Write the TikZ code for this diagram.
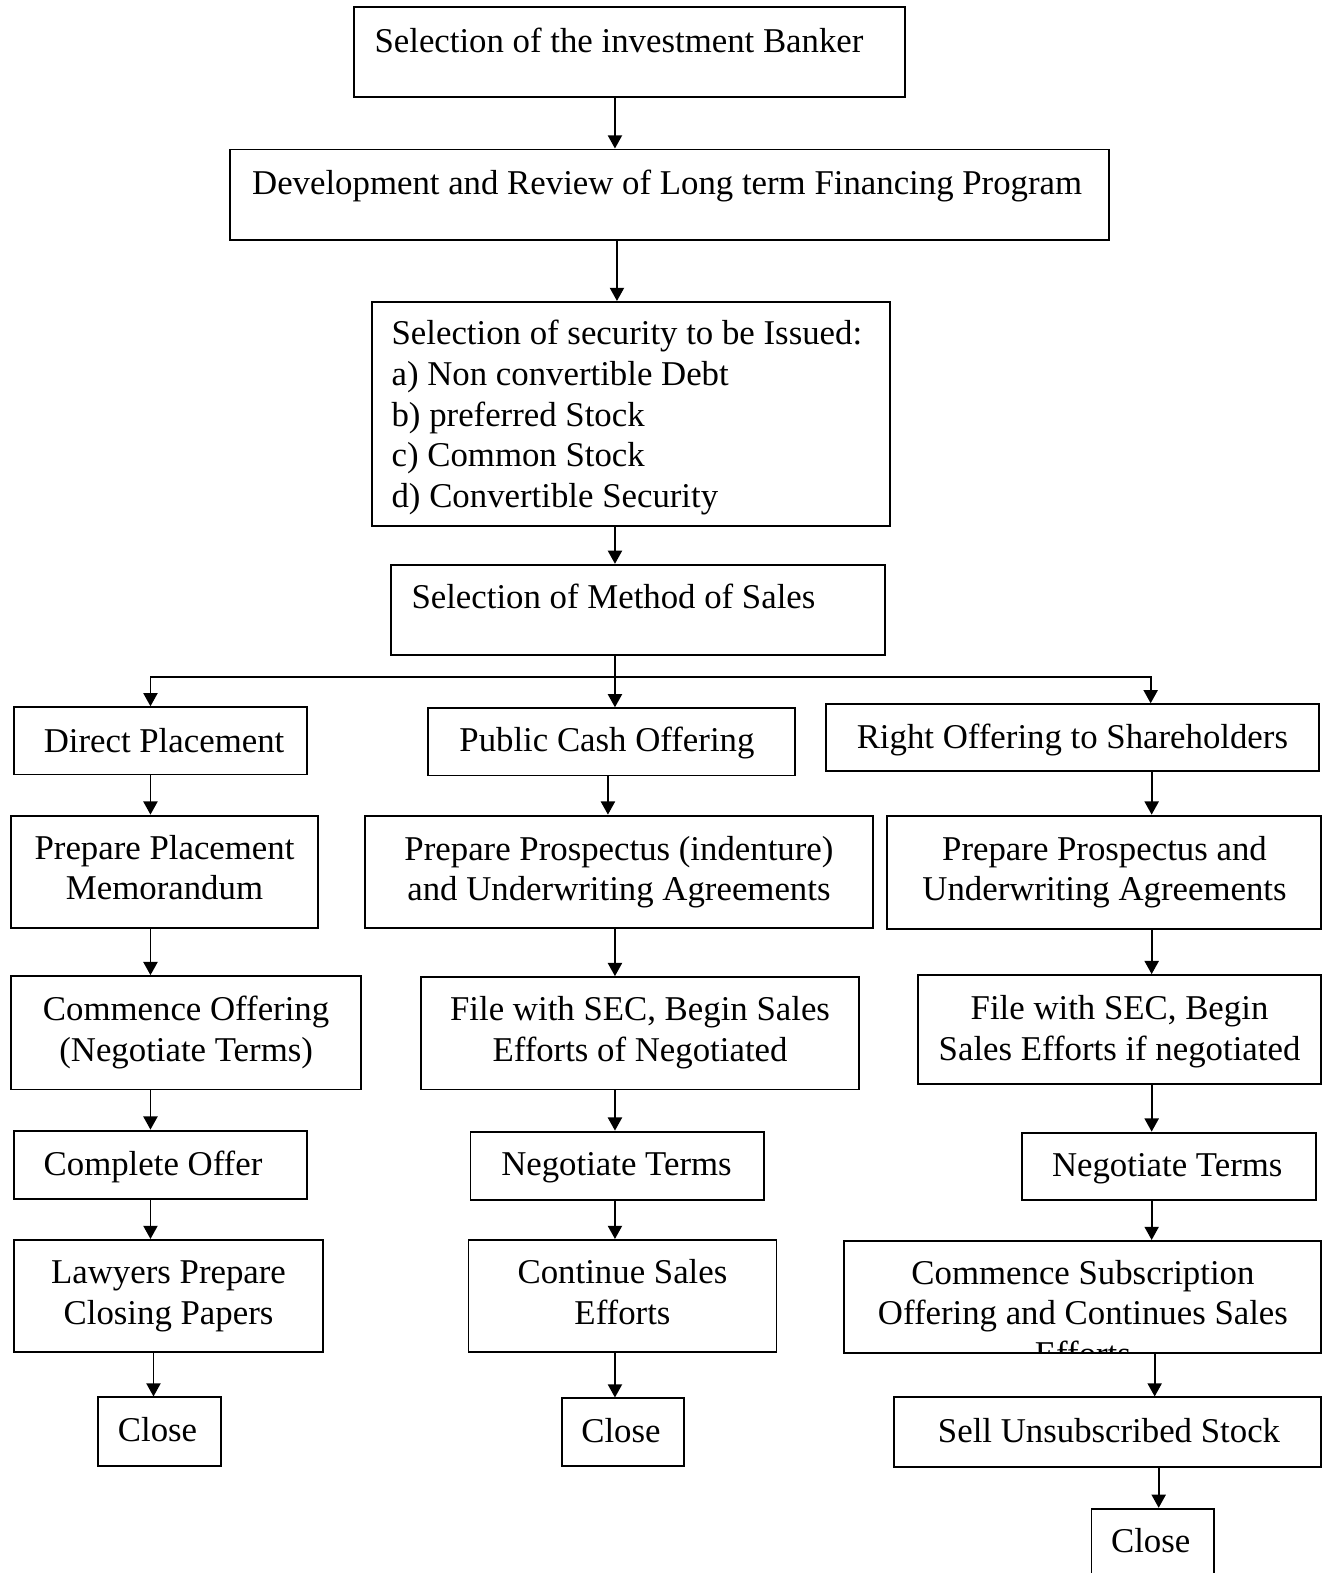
\documentclass[tikz,border=0pt]{standalone}
\usepackage{fontspec}
\setmainfont{Liberation Serif}
\usetikzlibrary{fit,arrows.meta}
\begin{document}
\begin{tikzpicture}[x=0.020064cm,y=-0.020064cm,
  box/.style={draw,line width=1.1pt,inner sep=0pt,fit={#1}},
  txt/.style={font=\fontsize{19.8}{23}\selectfont,inner sep=0pt,align=center,anchor=base},
  txtl/.style={font=\fontsize{19.8}{23.2}\selectfont,inner sep=0pt,align=left,anchor=base west},
  arr/.style={line width=1.1pt,-{Triangle[width=8pt,length=7.5pt]}},
  ln/.style={line width=1.1pt}]
\useasboundingbox (0,0) rectangle (1319,1568);
\clip (0,0) rectangle (1319,1568);
% column x positions
\coordinate (xA) at (613,0);
\coordinate (xB) at (615,0);
\coordinate (xL) at (150,0);
\coordinate (xL2) at (153,0);
\coordinate (xM0) at (606,0);
\coordinate (xM) at (613,0);
\coordinate (xR) at (1148,0);
\coordinate (xR1) at (1147,0);
\coordinate (xR2) at (1151,0);
\coordinate (xR3) at (1155,0);
% top chain
\node[box={(353,7) (902,97)}] (b1) {};
\node[txtl] (b1t) at (373,52) {Selection of the investment Banker};
\node[box={(229,149) (1105,239)}] (b2) {};
\node[txt] (b2t) at (665,194) {Development and Review of Long term Financing Program};
\node[box={(371,301) (887,524)}] (b3) {};
\node[txtl] (b3t) at (390,506) {Selection of security to be Issued:\\a) Non convertible Debt\\b) preferred Stock\\c) Common Stock\\d) Convertible Security};
\node[box={(390,563) (882,653)}] (b4) {};
\node[txt] (b4t) at (611.5,607) {Selection of Method of Sales};
% left column
\node[box={(14,705) (306,772)}] (l1) {};
\node[txt] (l1t) at (163.5,750) {Direct Placement};
\node[box={(11,813) (317,925)}] (l2) {};
\node[txt] (l2t) at (164,897) {Prepare Placement\\Memorandum};
\node[box={(11,973) (360,1086)}] (l3) {};
\node[txt] (l3t) at (185.5,1058) {Commence Offering\\(Negotiate Terms)};
\node[box={(14,1127) (306,1195)}] (l4) {};
\node[txt] (l4t) at (152.5,1172) {Complete Offer};
\node[box={(14,1236) (322,1348)}] (l5) {};
\node[txt] (l5t) at (168,1320) {Lawyers Prepare\\Closing Papers};
\node[box={(98,1393) (220,1461)}] (l6) {};
\node[txt] (l6t) at (157,1437) {Close};
% middle column
\node[box={(427,706) (792,773)}] (m1) {};
\node[txt] (m1t) at (605,749) {Public Cash Offering};
\node[box={(364,813) (870,925)}] (m2) {};
\node[txt] (m2t) at (617,898) {Prepare Prospectus (indenture)\\and Underwriting Agreements};
\node[box={(420,974) (856,1086)}] (m3) {};
\node[txt] (m3t) at (638,1058) {File with SEC, Begin Sales\\Efforts of Negotiated};
\node[box={(469,1128) (762,1196)}] (m4) {};
\node[txt] (m4t) at (614.5,1172) {Negotiate Terms};
\node[box={(467,1236) (774,1348)}] (m5) {};
\node[txt] (m5t) at (620.5,1320) {Continue Sales\\Efforts};
\node[box={(560,1394) (682,1461)}] (m6) {};
\node[txt] (m6t) at (619,1438) {Close};
% right column
\node[box={(823,702) (1315,769)}] (r1) {};
\node[txt] (r1t) at (1069,746) {Right Offering to Shareholders};
\node[box={(884,813) (1317,926)}] (r2) {};
\node[txt] (r2t) at (1101,898) {Prepare Prospectus and\\Underwriting Agreements};
\node[box={(915,972) (1317,1081)}] (r3) {};
\node[txt] (r3t) at (1116,1057) {File with SEC, Begin\\Sales Efforts if negotiated};
\node[box={(1019,1129) (1312,1196)}] (r4) {};
\node[txt] (r4t) at (1163.5,1173) {Negotiate Terms};
\begin{scope}
\clip (841,1237) rectangle (1317,1349);
\node[txt] (r5t) at (1079.5,1361) {Commence Subscription\\Offering and Continues Sales\\Efforts};
\end{scope}
\node[box={(841,1237) (1317,1349)}] (r5) {};
\node[box={(891,1393) (1317,1462)}] (r6) {};
\node[txt] (r6t) at (1105.5,1438) {Sell Unsubscribed Stock};
\node[box={(1088,1504) (1210,1600)}] (r7) {};
\node[txt] (r7t) at (1147,1548) {Close};
% connectors top
\draw[arr] (b1.south -| xA) -- (b2.north -| xA);
\draw[arr] (b2.south -| xB) -- (b3.north -| xB);
\draw[arr] (b3.south -| xA) -- (b4.north -| xA);
\coordinate (j) at (613,675);
\draw[ln] (b4.south -| xA) -- (j);
\draw[arr] (j) -| (l1.north -| xL);
\draw[arr] (j) -- (m1.north -| xA);
\draw[arr] (j) -| (r1.north -| xR1);
% left chain
\draw[arr] (l1.south -| xL) -- (l2.north -| xL);
\draw[arr] (l2.south -| xL) -- (l3.north -| xL);
\draw[arr] (l3.south -| xL) -- (l4.north -| xL);
\draw[arr] (l4.south -| xL) -- (l5.north -| xL);
\draw[arr] (l5.south -| xL2) -- (l6.north -| xL2);
% middle chain
\draw[arr] (m1.south -| xM0) -- (m2.north -| xM0);
\draw[arr] (m2.south -| xM) -- (m3.north -| xM);
\draw[arr] (m3.south -| xM) -- (m4.north -| xM);
\draw[arr] (m4.south -| xM) -- (m5.north -| xM);
\draw[arr] (m5.south -| xM) -- (m6.north -| xM);
% right chain
\draw[arr] (r1.south -| xR) -- (r2.north -| xR);
\draw[arr] (r2.south -| xR) -- (r3.north -| xR);
\draw[arr] (r3.south -| xR) -- (r4.north -| xR);
\draw[arr] (r4.south -| xR) -- (r5.north -| xR);
\draw[arr] (r5.south -| xR2) -- (r6.north -| xR2);
\draw[arr] (r6.south -| xR3) -- (r7.north -| xR3);
\end{tikzpicture}
\end{document}
